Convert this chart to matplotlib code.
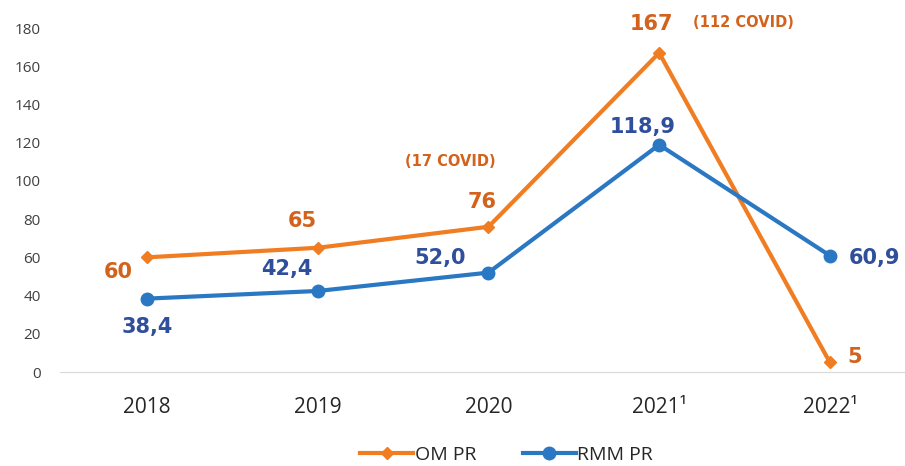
import matplotlib
matplotlib.use("Agg")
import matplotlib.pyplot as plt

years = ["2018", "2019", "2020", "2021\u00b9", "2022\u00b9"]
om_pr = [60, 65, 76, 167, 5]
rmm_pr = [38.4, 42.4, 52.0, 118.9, 60.9]
om_labels = ["60", "65", "76", "167", "5"]
rmm_labels = ["38,4", "42,4", "52,0", "118,9", "60,9"]
covid_notes = {2: "(17 COVID)", 3: "(112 COVID)"}

# label offsets in pixels from each point
om_off = [(-29, -15), (-15, 27), (-6, 25), (-8, 29), (25, 5)]
rmm_off = [(0, -28), (-31, 22), (-48, 15), (-16, 18), (45, -2)]
covid_off = {2: (-38, 65), 3: (84, 30)}

orange = "#F07D22"
orange_txt = "#D2621C"
blue = "#2A78C4"
blue_txt = "#2F4E9C"

plt.rcParams['font.family'] = ['Open Sans', 'DejaVu Sans']
lab_font = dict(family="DejaVu Sans", fontweight="bold")

fig = plt.figure(figsize=(9.05, 4.66), dpi=100)
ax = fig.add_axes([60 / 905, 94 / 466, 845 / 905, 344 / 466])

x = list(range(len(years)))
ax.plot(x, om_pr, color=orange, lw=3, marker="D", ms=6, label="OM PR")
ax.plot(x, rmm_pr, color=blue, lw=3, marker="o", ms=9, label="RMM PR")

for i in x:
    ax.annotate(om_labels[i], (i, om_pr[i]), xytext=om_off[i], textcoords="offset pixels",
                ha="center", va="center", color=orange_txt, fontsize=15,
                annotation_clip=False, **lab_font)
    ax.annotate(rmm_labels[i], (i, rmm_pr[i]), xytext=rmm_off[i], textcoords="offset pixels",
                ha="center", va="center", color=blue_txt, fontsize=15,
                annotation_clip=False, **lab_font)
for i, note in covid_notes.items():
    ax.annotate(note, (i, om_pr[i]), xytext=covid_off[i], textcoords="offset pixels",
                ha="center", va="center", color=orange_txt, fontsize=10.5,
                annotation_clip=False, **lab_font)

ax.set_xlim(-0.51, 4.44)
ax.set_ylim(0, 180)
ax.set_yticks(range(0, 181, 20))
ax.set_xticks(x)
ax.set_xticklabels(years)
ax.tick_params(axis="y", length=0, pad=14, labelsize=11, labelcolor="#404040")
ax.tick_params(axis="x", length=0, pad=18, labelsize=15, labelcolor="#262626")
for s in ["top", "right", "left"]:
    ax.spines[s].set_visible(False)
ax.spines["bottom"].set_color("#D9D9D9")
ax.set_facecolor("none")

fig.legend(loc="center", bbox_to_anchor=(0.56, 0.024), ncol=2, frameon=False,
           fontsize=14, handlelength=2.7, columnspacing=2.4, handletextpad=0.1,
           labelcolor="#262626")

fig.savefig("out.png", dpi=100)
